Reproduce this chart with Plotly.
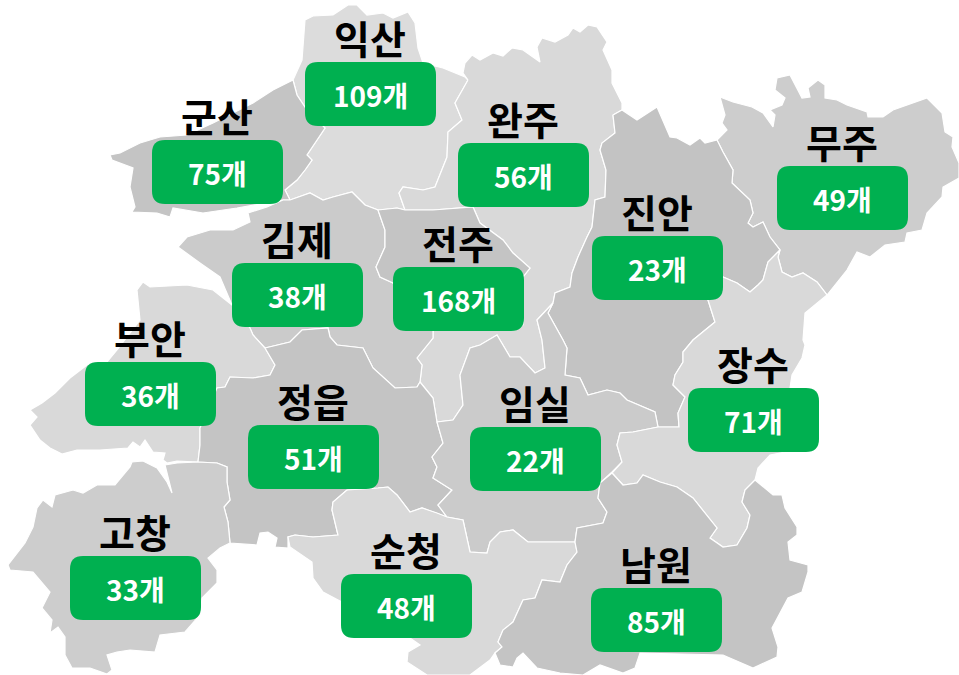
import plotly.graph_objects as go

names = ["익산", "군산", "완주", "무주", "진안", "김제", "전주", "부안", "정읍", "임실", "장수", "고창", "순청", "남원"]
counts = [109, 75, 56, 49, 23, 38, 168, 36, 51, 22, 71, 33, 48, 85]
box_left = [305, 152, 458, 777, 592, 232, 393, 85, 248, 470, 688, 70, 341, 591]
box_top = [62, 140, 143, 166, 236, 263, 267, 362, 425, 427, 388, 556, 574, 588]
fills = ["#dcdcdc", "#c4c4c4", "#d9d9d9", "#cdcdcd", "#c3c3c3", "#cbcbcb", "#c4c4c4",
         "#d9d9d9", "#c4c4c4", "#cbcbcb", "#d9d9d9", "#cdcdcd", "#d9d9d9", "#c4c4c4"]

iksan = [(293,80),(302,60),(305,20),(313,16),(333,15),(348,5),(357,5),(367,15),(383,13),(393,18),(408,12),(415,23),(418,48),(423,63),(443,68),(465,77),(468,80),(455,103),(462,120),(448,132),(447,157),(435,187),(423,190),(403,187),(399,193),(405,210),(397,208),(378,210),(365,205),(352,192),(333,197),(323,200),(310,193),(290,200),(285,190),(297,180),(305,170),(312,160),(307,155),(315,143),(325,128),(305,107),(297,95)]
gunsan = [(293,80),(273,90),(253,103),(213,123),(187,135),(160,137),(140,143),(120,153),(110,155),(112,160),(133,168),(130,187),(135,207),(132,212),(157,213),(170,217),(173,208),(203,213),(237,208),(283,200),(290,200),(285,190),(297,180),(305,170),(312,160),(307,155),(315,143),(325,128),(305,107),(297,95)]
wanju = [(468,80),(463,73),(465,63),(472,55),(480,60),(493,53),(503,56),(512,48),(523,50),(540,62),(537,47),(542,38),(555,42),(568,35),(573,28),(580,32),(588,25),(597,27),(607,42),(603,50),(612,70),(612,83),(622,103),(622,110),(613,115),(615,133),(602,143),(600,150),(606,170),(605,197),(595,200),(592,227),(587,237),(578,257),(572,273),(570,287),(555,293),(553,303),(537,320),(542,340),(545,368),(535,373),(520,357),(510,357),(497,335),(480,345),(470,348),(460,375),(463,405),(453,420),(437,422),(433,398),(420,382),(422,365),(417,358),(433,338),(433,325),(523,277),(530,268),(513,253),(503,240),(480,223),(473,207),(433,210),(405,210),(399,193),(403,187),(423,190),(435,187),(447,157),(448,132),(462,120),(455,103)]
muju = [(717,140),(727,130),(722,123),(725,115),(720,97),(733,102),(752,107),(763,113),(773,127),(775,115),(770,110),(782,105),(785,98),(775,90),(777,78),(790,75),(802,98),(810,97),(808,88),(818,80),(825,85),(825,98),(837,100),(847,105),(867,112),(868,117),(883,117),(893,110),(927,98),(942,113),(945,132),(953,137),(952,147),(959,163),(959,178),(943,187),(942,197),(927,213),(922,230),(907,233),(905,242),(885,245),(870,257),(857,252),(847,270),(827,295),(817,282),(803,273),(792,277),(782,272),(778,257),(780,250),(770,237),(763,222),(753,227),(748,223),(753,213),(750,200),(732,183),(733,170),(723,152)]
jinan = [(613,115),(622,110),(637,120),(657,107),(670,137),(677,138),(690,145),(700,138),(705,143),(717,140),(723,152),(733,170),(732,183),(750,200),(753,213),(748,223),(753,227),(763,222),(770,237),(780,250),(768,262),(763,280),(758,285),(750,292),(737,283),(723,277),(708,300),(715,322),(693,340),(683,352),(683,362),(675,375),(673,385),(685,397),(678,413),(679,427),(658,427),(655,412),(627,400),(620,393),(607,390),(588,395),(580,378),(565,375),(567,348),(563,340),(548,313),(553,303),(555,293),(570,287),(572,273),(578,257),(587,237),(592,227),(595,200),(605,197),(606,170),(600,150),(602,143),(615,133)]
gimje = [(248,213),(267,207),(283,200),(290,200),(310,193),(323,200),(333,197),(352,192),(365,205),(378,210),(385,230),(385,247),(376,267),(380,277),(393,283),(433,325),(433,338),(417,358),(422,365),(420,382),(417,387),(395,388),(373,368),(363,348),(337,345),(330,337),(328,328),(302,330),(290,342),(265,348),(253,335),(250,328),(232,305),(220,277),(200,263),(178,247),(187,237),(210,230),(233,230),(250,222)]
jeonju = [(378,210),(397,208),(405,210),(433,210),(473,207),(480,223),(503,240),(513,253),(530,268),(523,277),(523,325),(433,325),(393,283),(380,277),(376,267),(385,247),(385,230)]
buan = [(137,290),(143,282),(150,287),(187,285),(213,290),(232,305),(250,328),(253,335),(265,348),(275,365),(270,375),(253,378),(230,377),(225,387),(217,388),(200,428),(200,445),(198,462),(177,461),(167,463),(163,460),(165,453),(153,452),(145,440),(140,447),(133,442),(128,448),(100,450),(77,450),(62,454),(50,448),(40,440),(30,425),(37,417),(30,410),(42,403),(55,393),(70,378),(87,365),(107,362),(117,350),(140,320)]
jeongeup = [(265,348),(275,365),(270,375),(253,378),(230,377),(225,387),(217,388),(200,428),(200,445),(198,462),(217,463),(227,467),(227,482),(230,500),(224,507),(228,522),(230,543),(257,545),(260,533),(268,532),(277,538),(275,547),(288,548),(288,537),(295,535),(313,537),(338,535),(332,510),(333,502),(347,490),(378,488),(388,487),(397,495),(410,512),(422,508),(437,513),(447,517),(438,505),(452,490),(433,478),(437,467),(432,457),(443,443),(437,422),(433,398),(420,382),(417,387),(395,388),(373,368),(363,348),(337,345),(330,337),(328,328),(302,330),(290,342)]
imsil = [(553,303),(548,313),(563,340),(567,348),(565,375),(580,378),(588,395),(607,390),(620,393),(627,400),(655,412),(658,427),(633,432),(620,433),(617,445),(622,462),(612,472),(600,483),(598,498),(607,512),(603,523),(577,528),(575,542),(550,542),(528,542),(513,530),(500,532),(490,542),(487,553),(470,552),(463,520),(447,517),(438,505),(452,490),(433,478),(437,467),(432,457),(443,443),(437,422),(453,420),(463,405),(460,375),(470,348),(480,345),(497,335),(510,357),(520,357),(535,373),(545,368),(542,340),(537,320)]
jangsu = [(780,250),(778,257),(782,272),(792,277),(803,273),(817,282),(827,295),(805,313),(803,340),(805,345),(802,358),(792,375),(790,388),(785,452),(770,455),(758,468),(755,480),(745,490),(742,502),(750,515),(747,528),(737,545),(723,547),(710,538),(717,528),(707,515),(693,498),(677,487),(660,482),(643,475),(637,483),(623,485),(612,473),(622,462),(617,445),(620,433),(633,432),(658,427),(679,427),(678,413),(685,397),(673,385),(675,375),(683,362),(683,352),(693,340),(715,322),(708,300),(723,277),(737,283),(750,292),(758,285),(763,280),(768,262)]
gochang = [(165,465),(177,463),(198,462),(217,463),(227,467),(227,482),(230,500),(224,507),(228,522),(230,543),(220,548),(208,558),(217,570),(217,583),(202,598),(200,615),(185,632),(160,635),(155,652),(130,650),(117,652),(107,655),(112,670),(107,674),(90,668),(72,668),(65,655),(65,637),(58,627),(50,633),(52,620),(42,608),(50,592),(33,572),(10,570),(8,565),(25,543),(33,527),(37,508),(43,500),(52,507),(55,495),(73,490),(83,493),(97,485),(115,485),(130,467),(132,462),(143,461),(157,468),(167,482),(172,493)]
sunchang = [(347,490),(333,502),(332,510),(338,535),(313,537),(295,535),(288,537),(290,547),(312,562),(313,578),(323,592),(342,602),(410,638),(420,645),(408,652),(407,662),(427,675),(470,675),(490,660),(495,653),(502,647),(498,642),(503,630),(513,622),(523,600),(535,598),(542,580),(560,582),(567,565),(577,552),(575,542),(550,542),(528,542),(513,530),(500,532),(490,542),(487,553),(470,552),(463,520),(447,517),(437,513),(422,508),(410,512),(397,495),(388,487),(378,488)]
namwon = [(612,473),(623,485),(637,483),(643,475),(660,482),(677,487),(693,498),(707,515),(717,528),(710,538),(723,547),(737,545),(747,528),(750,515),(742,502),(745,490),(755,480),(773,495),(782,495),(785,508),(797,527),(797,535),(788,542),(790,560),(808,565),(808,572),(802,592),(788,598),(772,628),(778,647),(777,657),(753,668),(723,655),(640,653),(635,668),(623,673),(600,665),(583,675),(560,673),(537,668),(523,653),(517,658),(513,667),(500,665),(495,653),(502,647),(498,642),(503,630),(513,622),(523,600),(535,598),(542,580),(560,582),(567,565),(577,552),(575,542),(577,528),(603,523),(607,512),(598,498),(600,483)]

outlines = [iksan, gunsan, wanju, muju, jinan, gimje, jeonju, buan, jeongeup, imsil, jangsu, gochang, sunchang, namwon]

BOX_W, BOX_H, RADIUS = 131, 64, 13

fig = go.Figure()
for name, outline, fill in zip(names, outlines, fills):
    fig.add_trace(go.Scatter(
        x=[p[0] for p in outline] + [outline[0][0]],
        y=[p[1] for p in outline] + [outline[0][1]],
        mode="lines", fill="toself", fillcolor=fill,
        line=dict(color="#ffffff", width=1.2), name=name,
        hoverinfo="name", showlegend=False))


def rounded(x0, y0, w, h, r):
    x1, y1 = x0 + w, y0 + h
    return (f"M{x0+r},{y0} L{x1-r},{y0} Q{x1},{y0} {x1},{y0+r} L{x1},{y1-r} Q{x1},{y1} {x1-r},{y1} "
            f"L{x0+r},{y1} Q{x0},{y1} {x0},{y1-r} L{x0},{y0+r} Q{x0},{y0} {x0+r},{y0} Z")


shapes = [dict(type="path", xref="x", yref="y", path=rounded(l, t, BOX_W, BOX_H, RADIUS),
               fillcolor="#00b050", line=dict(width=0), layer="above")
          for l, t in zip(box_left, box_top)]

annotations = []
for name, n, l, t in zip(names, counts, box_left, box_top):
    cx = l + BOX_W / 2
    annotations.append(dict(x=cx - 1, y=t - 25, text=f"<b>{name}</b>", showarrow=False, xref="x", yref="y",
                            xanchor="center", yanchor="middle",
                            font=dict(family="Noto Sans CJK KR", size=39, color="#000000")))
    annotations.append(dict(x=cx, y=t + BOX_H / 2 + 1, text=f"<b>{n}개</b>", showarrow=False, xref="x", yref="y",
                            xanchor="center", yanchor="middle",
                            font=dict(family="Noto Sans CJK KR", size=28, color="#ffffff")))

fig.update_layout(
    width=959, height=675, autosize=False,
    margin=dict(l=0, r=0, t=0, b=0),
    paper_bgcolor="#ffffff", plot_bgcolor="#ffffff",
    xaxis=dict(range=[0, 959], visible=False, fixedrange=True),
    yaxis=dict(range=[675, 0], visible=False, fixedrange=True),
    shapes=shapes, annotations=annotations, showlegend=False)

fig.write_html("out.html", config=dict(displayModeBar=False),
               post_script="document.body.style.margin='0';document.documentElement.style.overflow='hidden';")
